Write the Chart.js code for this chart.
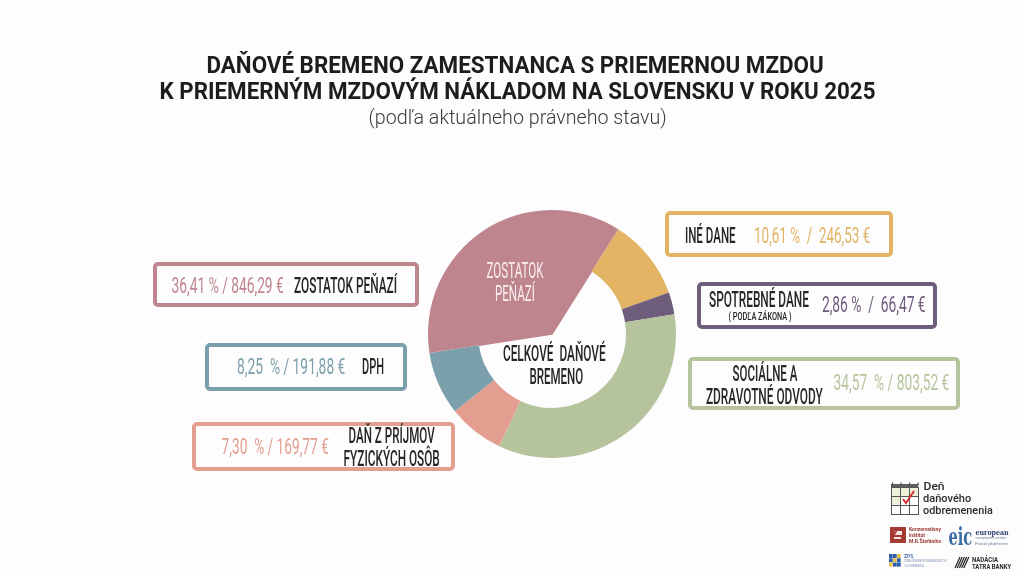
<!DOCTYPE html>
<html lang="sk">
<head>
<meta charset="utf-8">
<script src="https://cdn.jsdelivr.net/npm/chart.js@4"></script>
<style>
html,body{margin:0;padding:0;background:#fdfdfd;width:1024px;height:576px;overflow:hidden}
#wrap{position:relative;width:1024px;height:576px;overflow:hidden}
canvas{position:absolute;left:0;top:0}
.t{position:absolute;white-space:pre;line-height:1;transform-origin:center center}
.b{position:absolute;box-sizing:border-box;border-style:solid;border-width:4px;border-radius:5px;background:transparent}
svg{position:absolute;left:0;top:0}
</style>
</head>
<body>
<div id="wrap"><canvas id="c" width="1024" height="576"></canvas></div>
<script>
const categories = ["Iné dane","Spotrebné dane","Sociálne a zdravotné odvody","Daň z príjmov fyzických osôb","DPH","Zostatok peňazí"];
const shares = [10.61, 2.86, 34.57, 7.30, 8.25, 36.41];
const amounts = [246.53, 66.47, 803.52, 169.77, 191.88, 846.29];
const colors = ["#e2b464","#6f5d7c","#b5c49c","#e39e8f","#7c9fac","#bf858f"];
const ink = "#262626";

new Chart(document.getElementById('c'), {
  type:'doughnut',
  data:{labels:categories,datasets:[
    {data:shares,backgroundColor:colors,borderWidth:0,weight:50},
    {data:shares,backgroundColor:colors.map((c,i)=>i===5?c:'rgba(0,0,0,0)'),
     borderColor:colors.map((c,i)=>i===5?c:'rgba(0,0,0,0)'),borderWidth:colors.map((c,i)=>i===5?1.5:0),weight:74}
  ]},
  options:{
    responsive:false,animation:false,devicePixelRatio:1,rotation:32.3,cutout:0,
    events:[],
    layout:{padding:{left:428,right:348,top:210,bottom:118}},
    plugins:{legend:{display:false},tooltip:{enabled:false},title:{display:false}}
  }
});

const wrap=document.getElementById('wrap');
function box(x0,y0,x1,y1,col){
  const d=document.createElement('div');d.className='b';
  d.style.cssText=`left:${x0}px;top:${y0}px;width:${x1-x0}px;height:${y1-y0}px;border-color:${col}`;
  wrap.appendChild(d);
}
function txt(s,x0,x1,cy,size,col,weight,family){
  const d=document.createElement('div');d.className='t';d.textContent=s;
  d.style.fontFamily=family||'Roboto';d.style.fontSize=size+'px';d.style.color=col;d.style.fontWeight=weight||400;
  wrap.appendChild(d);
  const w=d.offsetWidth,h=d.offsetHeight;
  d.style.left=(x0+x1)/2-w/2+'px';
  d.style.top=cy-h/2+'px';
  d.style.transform=`scaleX(${(x1-x0)/w})`;
}
const fmt=(i,a,b)=>shares[i].toFixed(2).replace('.',',')+a+'/'+b+amounts[i].toFixed(2).replace('.',',')+' €';

box(153,262,419,307,colors[5]);
box(205,343,407,391,colors[4]);
box(192,422,455,471,colors[3]);
box(665,211,893,257,colors[0]);
box(697,282,937,329,colors[1]);
box(688,357,960,410,colors[2]);

txt("DAŇOVÉ BREMENO ZAMESTNANCA S PRIEMERNOU MZDOU",206,823,65,23,"#1d1d1b",700);
txt("K PRIEMERNÝM MZDOVÝM NÁKLADOM NA SLOVENSKU V ROKU 2025",159,875,91,23,"#1d1d1b",700);
txt("(podľa aktuálneho právneho stavu)",368,666,117,20,"#3a3a3a",300);

const L=22, V=22;
txt(fmt(5,' % ',' '),171,283,286,V,colors[5],400);
txt("ZOSTATOK PEŇAZÍ",294,397,286,L,ink,500);
txt(fmt(4,'  % ',' '),237,345,367,V,colors[4],400);
txt("DPH",362,384,367,L,ink,500);
txt(fmt(3,'  % ',' '),221,328,447,V,colors[3],400);
txt("DAŇ Z PRÍJMOV",348,434,436,L,ink,500);
txt("FYZICKÝCH OSÔB",343,439,459,L,ink,500);

txt("INÉ DANE",685,736,236,L,ink,500);
txt(fmt(0,' %  ','  '),754,870,236,V,colors[0],400);
txt("SPOTREBNÉ DANE",709,809,300,L,ink,500);
txt("( PODĽA ZÁKONA )",728,791,317,10,ink,500);
txt(fmt(1,' %  ','  '),822,926,305,V,colors[1],400);
txt("SOCIÁLNE A",732,797,374,L,ink,500);
txt("ZDRAVOTNÉ ODVODY",706,823,397,L,ink,500);
txt(fmt(2,'  % ',' '),833,949,383,V,colors[2],400);

txt("CELKOVÉ  DAŇOVÉ",503,606,354,L,ink,500);
txt("BREMENO",529,583,377,L,ink,500);
txt("ZOSTATOK",486,543,271,L,"#fbeef0",400);
txt("PEŇAZÍ",495,535,294,L,"#fbeef0",400);

txt("Deň",923,944,487,11.5,"#2b2b2b",500);
txt("daňového",923,971,499,11.5,"#2b2b2b",500);
txt("odbremenenia",923,993,511,11.5,"#2b2b2b",500);

txt("Konzervatívny",909,941,529,5,"#9b3a36",700);
txt("inštitút",909,925,535,5,"#9b3a36",700);
txt("M.R.Štefánika",909,941,541,5,"#9b3a36",700);
txt("eic",948,972,536,25,"#3b6da5",700,"DejaVu Serif");
txt("european",975,1008,532,8,"#2e3f73",700,"DejaVu Serif");
txt("investment centre",975,1006,538,4,"#6b7a9c",400);
txt("Fund platform",975,1008,544,4,"#6b7a9c",400);
txt("ZPS",904,913,556,6,"#4d72a8",700);
txt("ZDRUŽENIE PODNIKATEĽOV",904,947,561,4,"#7b8db3",400);
txt("SLOVENSKA",904,923,566,4,"#7b8db3",400);
txt("NADÁCIA",972,998,560,6.5,"#2b2b2b",700);
txt("TATRA BANKY",972,1011,567,6.5,"#2b2b2b",700);

const ns='http://www.w3.org/2000/svg';
const svg=document.createElementNS(ns,'svg');svg.setAttribute('width',1024);svg.setAttribute('height',576);
const r=(x,y,w,h,f,s)=>{const e=document.createElementNS(ns,'rect');e.setAttribute('x',x);e.setAttribute('y',y);e.setAttribute('width',w);e.setAttribute('height',h);e.setAttribute('fill',f);if(s){e.setAttribute('stroke',s);e.setAttribute('stroke-width',1);}svg.appendChild(e);};
const p=(d,s,w,f)=>{const e=document.createElementNS(ns,'path');e.setAttribute('d',d);e.setAttribute('stroke',s);e.setAttribute('stroke-width',w);e.setAttribute('fill',f||'none');svg.appendChild(e);};
r(891,484,27,3,'#5f5f5f');
for(let i=0;i<3;i++)for(let j=0;j<3;j++){r(891.5+i*9,487.5+j*9,9,9,j===0||(j===1&&i===0)?'#eef0d8':'#fff','#555');}
for(let i=0;i<4;i++)r(892+i*8.5,482.5,1.2,3,'#555');
p('M903 499 L906 503 L914 491','#d62f2f',2);
r(890,527,16,16,'#a83a34');
r(894,531,8,8,'#f4e6e0');
p('M898 528 L893 536 L902 536 L902 541','#a83a34',2);
const bl=['#2f5ea8','#2f5ea8','#e3c14a','#2f5ea8','#e3c14a','#2f5ea8','#e3c14a','#2f5ea8','#2f5ea8'];
for(let i=0;i<3;i++)for(let j=0;j<3;j++)r(889+i*4,554+j*4.3,3.7,4,bl[i+j*3]);
for(let i=0;i<5;i++)p(`M${955+i*2.2} 568 L${960+i*2.2} 557`,'#222',1.2);
wrap.appendChild(svg);
</script>
</body>
</html>
